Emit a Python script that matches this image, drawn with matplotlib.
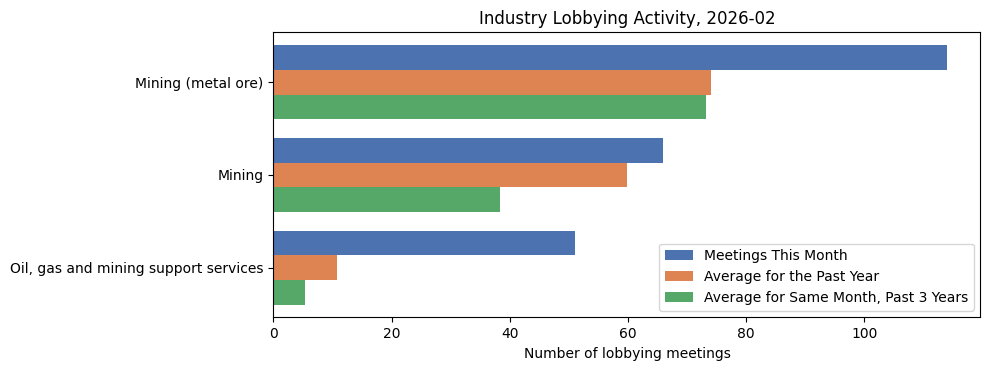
import numpy as np
import matplotlib.pyplot as plt

industries = ['Mining (metal ore)', 'Mining', 'Oil, gas and mining support services']
meetings_this_month = [114, 66, 51]
avg_past_year = [74.1, 59.8, 10.8]
avg_same_month_3y = [73.2, 38.3, 5.3]

series = ['Meetings This Month', 'Average for the Past Year', 'Average for Same Month, Past 3 Years']
colores = ['#4C72B0', '#DD8452', '#55A868']

fig, ax = plt.subplots(figsize=(9.89, 3.7), dpi=100)

y = np.arange(len(industries))
alto = 0.8 / 3

for i, (vals, nombre) in enumerate(zip([meetings_this_month, avg_past_year, avg_same_month_3y], series)):
    ax.barh(y - 0.4 + alto * (i + 0.5), vals, height=alto, color=colores[i], label=nombre)

ax.set_yticks(y)
ax.set_yticklabels(industries)
ax.invert_yaxis()
ax.set_xlabel('Number of lobbying meetings')
ax.set_title('Industry Lobbying Activity, 2026-02')
ax.legend(loc='lower right')

plt.subplots_adjust(left=0.2765, right=0.9914, top=0.9122, bottom=0.1419)
plt.savefig('out.png')
